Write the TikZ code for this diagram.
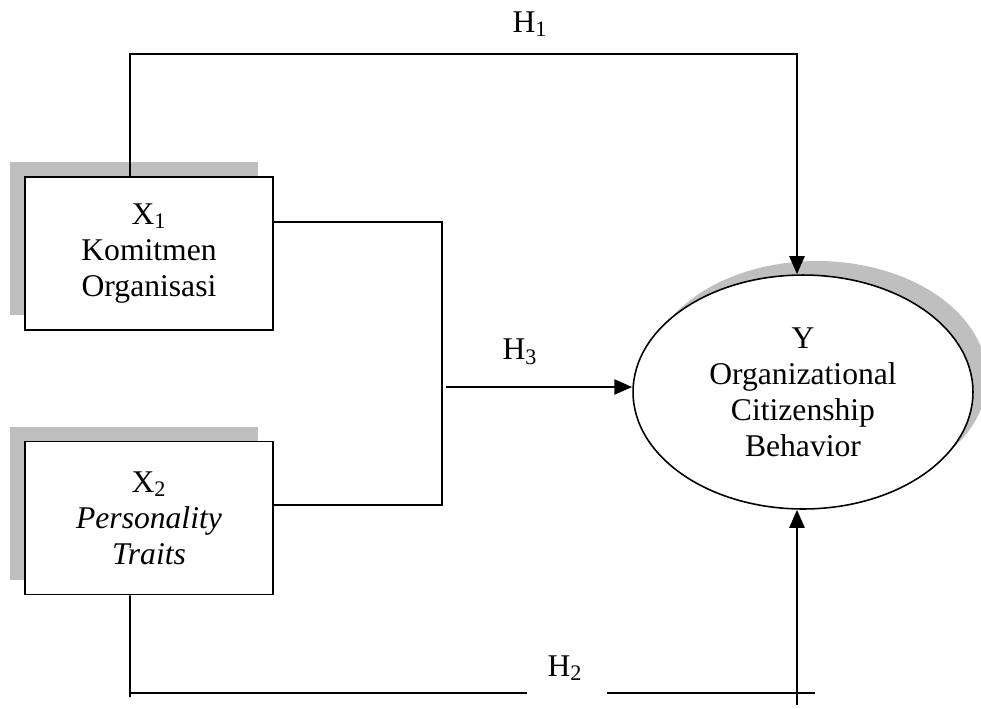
\documentclass[tikz,border=0pt]{standalone}
\usepackage{fontspec}
\setmainfont{Liberation Serif}
\usetikzlibrary{arrows.meta}
\usetikzlibrary{positioning, shapes.geometric, shadows}

\begin{document}
\begin{tikzpicture} [
	x=0.02cm, y=-0.02cm, % one unit is one pixel of the page
	font=\fontsize{18}{20.5}\selectfont,
	line width=0.9pt,
	>={Triangle[length=0.36cm, width=0.3cm]}, % filled arrow heads
	var/.style={draw, fill=white, align=center, minimum width=4.96cm, minimum height=3.06cm,
		drop shadow={shadow xshift=-0.3cm, shadow yshift=0.3cm, fill=gray!50, opacity=1}}, % the two X boxes
	dep/.style={ellipse, draw, fill=white, align=center, minimum width=6.8cm, minimum height=4.68cm,
		drop shadow={shadow xshift=0.28cm, shadow yshift=0.28cm, fill=gray!50, opacity=1}}, % the Y ellipse
	hyp/.style={->, line width=1.4pt}, % arrows of the hypotheses
	]
	\useasboundingbox (0,0) rectangle (981,708);

	\node[var] (x1) at (149,253.5) {X\textsubscript{1}\\Komitmen\\Organisasi};
	\node[var, below=2.2cm of x1] (x2) {X\textsubscript{2}\\\textit{Personality}\\\textit{Traits}};
	\node[dep] (y) at (803,392) {Y\\Organizational\\Citizenship\\Behavior};

	% H1
	\coordinate (h1) at (797,54);
	\draw[hyp] ([xshift=-0.38cm]x1.north) |- (h1) -- (y.north -| h1);
	\node (h1lab) at (530,24) {H\textsubscript{1}};

	% H3
	\coordinate (h3) at (446,387);
	\draw ([yshift=0.63cm]x1.east) -| (442,505) -- (x2.east |- 0,505);
	\draw[hyp] (h3) -- (h3 -| y.west);
	\node (h3lab) at (520,352) {H\textsubscript{3}};

	% H2
	\coordinate (h2a) at (130,693);
	\coordinate (h2b) at (797,693);
	\draw ([xshift=-0.38cm]x2.south) -- ([yshift=-0.08cm]h2a);
	\draw (h2a) -- (527,693);
	\draw (607,693) -- (815,693);
	\draw[hyp] (797,705) -- (y.south -| h2b);
	\node (h2lab) at (565,668) {H\textsubscript{2}};
\end{tikzpicture}
\end{document}
